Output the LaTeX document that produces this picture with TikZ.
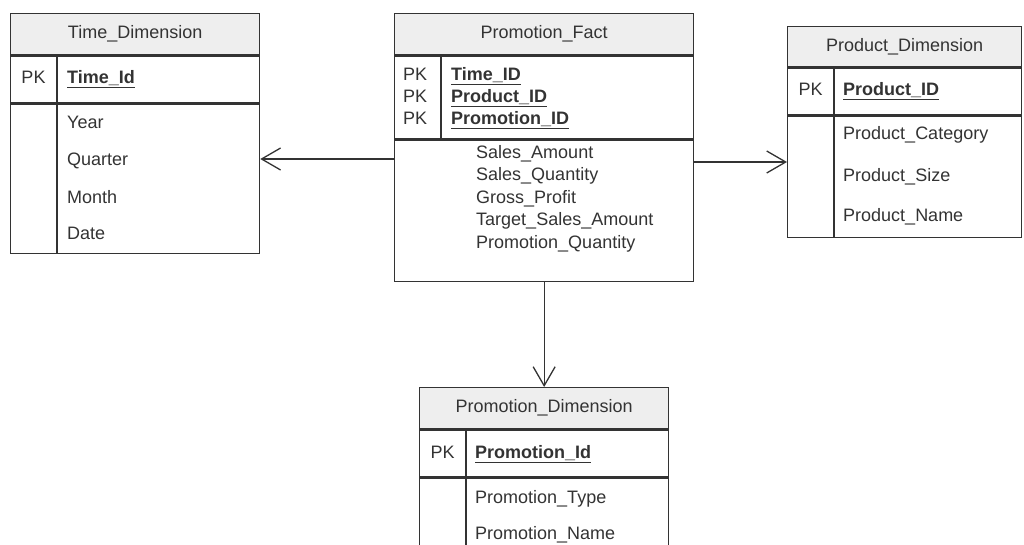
\documentclass[tikz,border=0pt]{standalone}
\usepackage{fontspec}
\setmainfont{Liberation Sans}
\usetikzlibrary{arrows.meta}
\definecolor{linea}{HTML}{333333}
\definecolor{testa}{HTML}{EEEEEE}
\tikzset{
  tab/.style={draw=linea, line width=1.3pt, anchor=north west, inner sep=0pt, text=linea, font=\fontsize{18}{21}\selectfont},
  campo/.style={anchor=west, inner sep=0pt, text=linea, text height=13pt, text depth=0pt, font=\fontsize{18}{21}\selectfont},
  chiave/.style={campo, font=\fontsize{18}{21}\selectfont\bfseries},
  freccia/.style={draw=linea, line width=1.3pt, -{Straight Barb[length=19pt,width=22pt]}}
}
\begin{document}
\begin{tikzpicture}[x=1pt,y=-1pt]
        \useasboundingbox (0,0) rectangle (1024,545);
        \clip (0,0) rectangle (1024,545);
        %tabella tempo
        \node[tab,fill=testa,minimum width=249pt,minimum height=41pt] (timehead) at (10,13) {Time\_Dimension};
        \node[tab,minimum width=249pt,minimum height=47pt] (timekey) at (timehead.south west) {};
        \node[tab,minimum width=249pt,minimum height=149pt] (timebody) at (timekey.south west) {};
        \draw[linea,line width=1.3pt] ([xshift=47pt]timekey.north west) -- ([xshift=47pt]timebody.south west); %colonna PK
        \node[campo,anchor=center] (timepk) at (33.5,77) {PK};
        \node[chiave] (timeid) at (67,77) {\underline{Time\_Id}};
        \node[campo] (year) at (67,122) {Year};
        \node[campo] (quarter) at (67,159) {Quarter};
        \node[campo] (month) at (67,197) {Month};
        \node[campo] (date) at (67,233) {Date};
        %tabella fatti
        \node[tab,fill=testa,minimum width=299pt,minimum height=41pt] (facthead) at (394,13) {Promotion\_Fact};
        \node[tab,minimum width=299pt,minimum height=83pt] (factkey) at (facthead.south west) {};
        \node[tab,minimum width=299pt,minimum height=141pt] (factbody) at (factkey.south west) {};
        \draw[linea,line width=1.3pt] ([xshift=47pt]factkey.north west) -- ([xshift=47pt]factkey.south west); %colonna PK
        \node[campo] (factpka) at (403,74) {PK};
        \node[campo] (factpkb) at (403,96) {PK};
        \node[campo] (factpkc) at (403,118) {PK};
        \node[chiave] (facttime) at (451,74) {\underline{Time\_ID}};
        \node[chiave] (factprod) at (451,96) {\underline{Product\_ID}};
        \node[chiave] (factpromo) at (451,118) {\underline{Promotion\_ID}};
        \node[campo] (amount) at (476,152) {Sales\_Amount};
        \node[campo] (quantity) at (476,174) {Sales\_Quantity};
        \node[campo] (profit) at (476,197) {Gross\_Profit};
        \node[campo] (target) at (476,219) {Target\_Sales\_Amount};
        \node[campo] (promoqty) at (476,242) {Promotion\_Quantity};
        %tabella prodotto
        \node[tab,fill=testa,minimum width=234pt,minimum height=40pt] (prodhead) at (787,26) {Product\_Dimension};
        \node[tab,minimum width=234pt,minimum height=47pt] (prodkey) at (prodhead.south west) {};
        \node[tab,minimum width=234pt,minimum height=121pt] (prodbody) at (prodkey.south west) {};
        \draw[linea,line width=1.3pt] ([xshift=47pt]prodkey.north west) -- ([xshift=47pt]prodbody.south west); %colonna PK
        \node[campo,anchor=center] (prodpk) at (810.5,89) {PK};
        \node[chiave] (prodid) at (843,89) {\underline{Product\_ID}};
        \node[campo] (category) at (843,133) {Product\_Category};
        \node[campo] (size) at (843,175) {Product\_Size};
        \node[campo] (name) at (843,215) {Product\_Name};
        %tabella promozione
        \node[tab,fill=testa,minimum width=249pt,minimum height=41pt] (promohead) at (419,387) {Promotion\_Dimension};
        \node[tab,minimum width=249pt,minimum height=47pt] (promokey) at (promohead.south west) {};
        \node[tab,minimum width=249pt,minimum height=90pt] (promobody) at (promokey.south west) {};
        \draw[linea,line width=1.3pt] ([xshift=47pt]promokey.north west) -- ([xshift=47pt]promobody.south west); %colonna PK
        \node[campo,anchor=center] (promopk) at (442.5,452) {PK};
        \node[chiave] (promoid) at (475,452) {\underline{Promotion\_Id}};
        \node[campo] (type) at (475,497) {Promotion\_Type};
        \node[campo] (pname) at (475,533) {Promotion\_Name};
        %frecce
        \coordinate (destra) at (740,162);
        \draw[freccia] (factbody.west |- quarter) -- (timebody.east |- quarter);
        \draw[freccia] (factbody.east |- destra) -- (prodbody.west |- destra);
        \draw[freccia] (factbody.south) -- (promohead.north);
    \end{tikzpicture}
\end{document}
